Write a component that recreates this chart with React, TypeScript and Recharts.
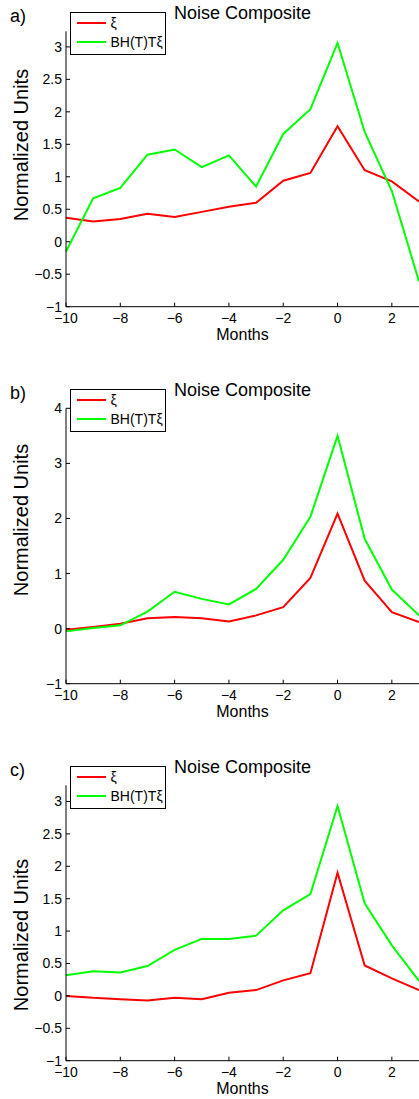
import React from 'react';
import { LineChart, Line, XAxis, YAxis, Legend } from 'recharts';

// ---- data ----
const months = [-10, -9, -8, -7, -6, -5, -4, -3, -2, -1, 0, 1, 2, 3];

const xiA = [0.37, 0.31, 0.35, 0.43, 0.38, 0.46, 0.54, 0.6, 0.94, 1.06, 1.78, 1.1, 0.93, 0.62];
const bhA = [-0.15, 0.67, 0.83, 1.34, 1.42, 1.15, 1.33, 0.85, 1.66, 2.04, 3.06, 1.69, 0.78, -0.61];

const xiB = [-0.02, 0.03, 0.09, 0.19, 0.21, 0.19, 0.13, 0.24, 0.39, 0.92, 2.09, 0.87, 0.3, 0.12];
const bhB = [-0.05, 0.01, 0.06, 0.31, 0.67, 0.54, 0.44, 0.72, 1.25, 2.03, 3.5, 1.63, 0.71, 0.24];

const xiC = [0.0, -0.03, -0.05, -0.07, -0.03, -0.05, 0.05, 0.09, 0.24, 0.35, 1.9, 0.47, 0.27, 0.09];
const bhC = [0.32, 0.38, 0.36, 0.46, 0.71, 0.88, 0.88, 0.93, 1.32, 1.57, 2.93, 1.43, 0.78, 0.23];

const xTicks = [-10, -8, -6, -4, -2, 0, 2];
const yTicksA = [-1, -0.5, 0, 0.5, 1, 1.5, 2, 2.5, 3];
const yTicksB = [-1, 0, 1, 2, 3, 4];
const yTicksC = [-1, -0.5, 0, 0.5, 1, 1.5, 2, 2.5, 3];

const panelLabels = ['a)', 'b)', 'c)'];
const titleText = 'Noise Composite';
const xLabel = 'Months';
const yLabel = 'Normalized Units';
const seriesNames = ['\u03BE', 'BH(T)T\u03BE'];
const seriesColors = ['#ff0000', '#00ff00'];

// ---- layout/style ----
const FONT = '"Liberation Sans", Arial, Helvetica, sans-serif';
const CHART_W = 411;
const CHART_H = 377;

const buildRows = (xi: number[], bh: number[]) =>
  months.map((m, i) => ({ m, xi: xi[i], bh: bh[i] }));

const fmt = (v: number) => String(v).replace('-', '\u2212');

const panels = [
  { rows: buildRows(xiA, bhA), yTicks: yTicksA, yDomain: [-1, 3.24], yLabelY: 137 },
  { rows: buildRows(xiB, bhB), yTicks: yTicksB, yDomain: [-1, 4], yLabelY: 135 },
  { rows: buildRows(xiC, bhC), yTicks: yTicksC, yDomain: [-1, 3.25], yLabelY: 173 },
];

const renderLegend = (props: any) => {
  const payload = [...(props.payload || [])].sort(
    (a: any, b: any) => seriesNames.indexOf(a.value) - seriesNames.indexOf(b.value)
  );
  return (
    <div
      style={{
        border: '1px solid #000',
        background: '#fff',
        width: 94,
        height: 41,
        position: 'relative',
        fontFamily: FONT,
        fontSize: 14,
        color: '#000',
      }}
    >
      {payload.map((p: any, i: number) => (
        <div
          key={i}
          style={{
            position: 'absolute',
            left: 6,
            top: 2 + i * 19,
            height: 17,
            display: 'flex',
            alignItems: 'center',
            whiteSpace: 'nowrap',
          }}
        >
          <span style={{ display: 'inline-block', width: 29, height: 2, background: p.color }} />
          <span style={{ marginLeft: 4.5, lineHeight: '17px' }}>{p.value}</span>
        </div>
      ))}
    </div>
  );
};

const tickStyle = { fontSize: 14, fill: '#000', fontFamily: FONT };

function Panel({ idx }: { idx: number }) {
  const p = panels[idx];
  return (
    <div
      style={{
        position: 'absolute',
        left: 8,
        top: 8 + idx * CHART_H,
        width: CHART_W,
        height: CHART_H,
      }}
    >
      <LineChart
        width={CHART_W}
        height={CHART_H}
        data={p.rows}
        margin={{ top: 23.3, right: 0, bottom: 48.3, left: 0 }}
      >
        <XAxis
          dataKey="m"
          type="number"
          domain={[-10, 3]}
          ticks={xTicks}
          tickFormatter={fmt}
          height={30}
          tickSize={-4}
          tickMargin={10}
          stroke="#000"
          tick={tickStyle}
          axisLine={{ stroke: '#000' }}
          tickLine={{ stroke: '#000' }}
        />
        <YAxis
          type="number"
          domain={p.yDomain}
          ticks={p.yTicks}
          tickFormatter={fmt}
          width={58}
          tickSize={-4}
          tickMargin={8}
          stroke="#000"
          tick={tickStyle}
          axisLine={{ stroke: '#000' }}
          tickLine={{ stroke: '#000' }}
          allowDataOverflow
        />
        <Legend
          layout="vertical"
          align="center"
          verticalAlign="middle"
          content={renderLegend}
          wrapperStyle={{ position: 'absolute', left: 62, top: 3.5, width: 96, height: 43 }}
        />
        <Line
          type="linear"
          dataKey="xi"
          name={seriesNames[0]}
          stroke={seriesColors[0]}
          strokeWidth={2}
          dot={false}
          activeDot={false}
          isAnimationActive={false}
        />
        <Line
          type="linear"
          dataKey="bh"
          name={seriesNames[1]}
          stroke={seriesColors[1]}
          strokeWidth={2}
          dot={false}
          activeDot={false}
          isAnimationActive={false}
        />
      </LineChart>
      <svg
        width={CHART_W}
        height={CHART_H}
        style={{ position: 'absolute', left: 0, top: 0, overflow: 'visible', pointerEvents: 'none' }}
      >
        <text x={2} y={14} fontSize={18} fontFamily={FONT} fill="#000">
          {panelLabels[idx]}
        </text>
        <text x={234.5} y={10.5} fontSize={18} fontFamily={FONT} fill="#000" textAnchor="middle">
          {titleText}
        </text>
        <text
          transform={`translate(20.3, ${p.yLabelY}) rotate(-90)`}
          fontSize={20}
          fontFamily={FONT}
          fill="#000"
          textAnchor="middle"
        >
          {yLabel}
        </text>
        <text x={234.5} y={331.5} fontSize={16} fontFamily={FONT} fill="#000" textAnchor="middle">
          {xLabel}
        </text>
      </svg>
    </div>
  );
}

export default function App() {
  return (
    <div
      style={{
        position: 'absolute',
        left: 0,
        top: 0,
        width: 419,
        height: 1099,
        overflow: 'hidden',
        background: '#fff',
      }}
    >
      <Panel idx={0} />
      <Panel idx={1} />
      <Panel idx={2} />
    </div>
  );
}
